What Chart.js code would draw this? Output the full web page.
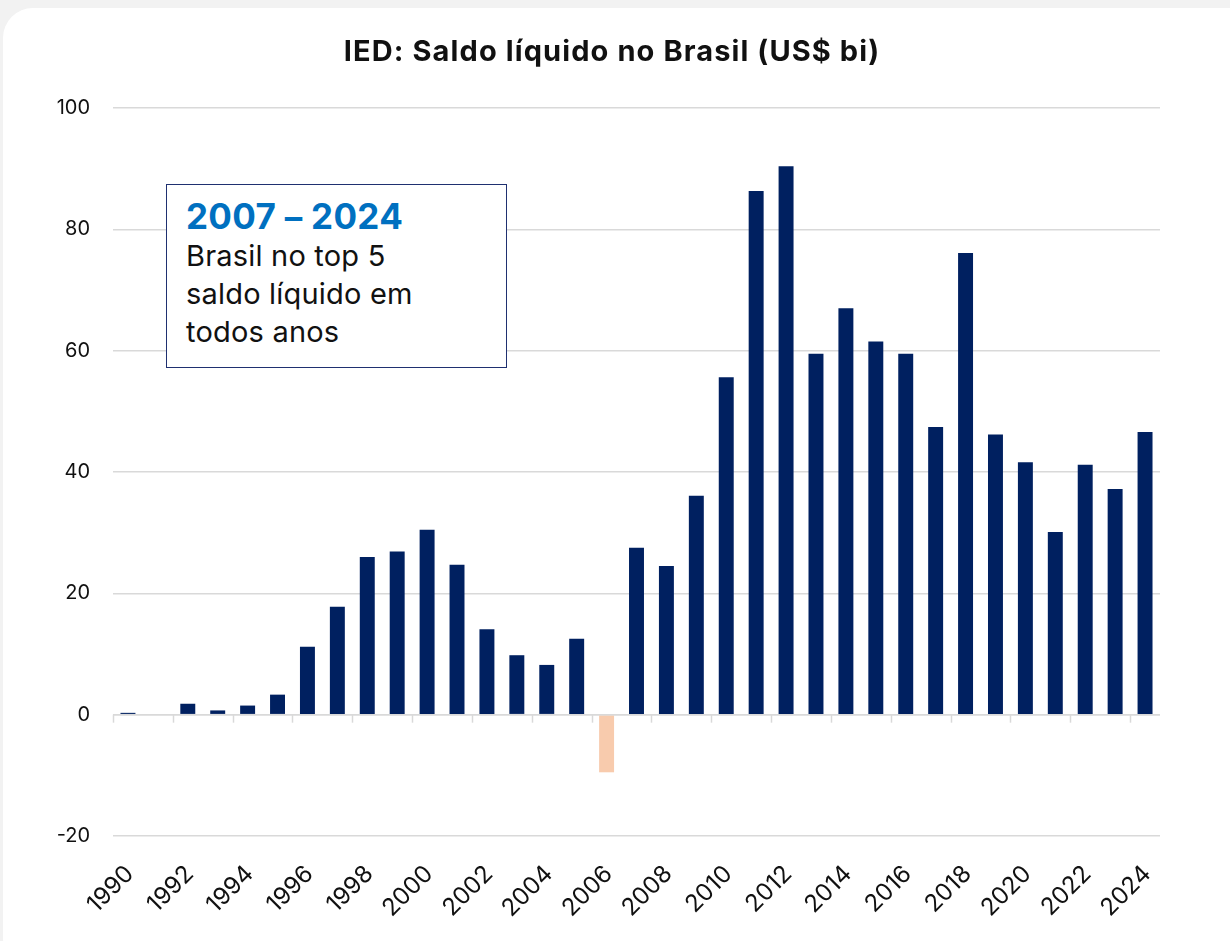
<!DOCTYPE html>
<html lang="pt-BR">
<head>
<meta charset="utf-8">
<title>IED: Saldo líquido no Brasil</title>
<script src="https://cdn.jsdelivr.net/npm/chart.js@4.4.1/dist/chart.umd.min.js"></script>
<style>
  html, body { margin: 0; padding: 0; background: #f2f2f2; }
  body { width: 1230px; height: 941px; position: relative; overflow: hidden; font-family: Inter, "Noto Sans", sans-serif; }
  #card { position: absolute; left: 3px; top: 8px; width: 1260px; height: 960px; background: #fff; border-radius: 30px; }
  #title { position: absolute; left: 0; width: 1224px; top: 33px; text-align: center; font-size: 29px; font-weight: 700; color: #111; letter-spacing: 1.1px; }
  #wrap { position: absolute; left: 0; top: 0; width: 1230px; height: 941px; }
  #note { position: absolute; left: 166px; top: 184px; width: 341px; height: 184px; border: 1.5px solid #1f3070; background: #fff; box-sizing: border-box; padding: 10px 0 0 19px; }
  #note .yrs { font-size: 35px; font-weight: 700; color: #0070c0; line-height: 42px; letter-spacing: 0.3px; }
  #note .txt { font-size: 29px; color: #111; line-height: 38px; letter-spacing: 0.2px; }
</style>
</head>
<body>
<div id="card"></div>
<div id="wrap"><canvas id="chartIED" width="1230" height="941"></canvas></div>
<div id="title">IED: Saldo líquido no Brasil (US$ bi)</div>
<div id="note">
  <div class="yrs">2007 – 2024</div>
  <div class="txt">Brasil no top 5<br>saldo líquido em<br>todos anos</div>
</div>
<script>
// --- dados (US$ bi) ---
const years = ['1990','1991','1992','1993','1994','1995','1996','1997','1998','1999',
               '2000','2001','2002','2003','2004','2005','2006','2007','2008','2009',
               '2010','2011','2012','2013','2014','2015','2016','2017','2018','2019',
               '2020','2021','2022','2023','2024'];
const saldo = [0.3, 0, 1.8, 0.7, 1.5, 3.3, 11.2, 17.8, 26.0, 26.9,
               30.5, 24.7, 14.1, 9.8, 8.2, 12.5, -9.5, 27.5, 24.5, 36.1,
               55.6, 86.3, 90.4, 59.5, 67.0, 61.5, 59.5, 47.4, 76.1, 46.2,
               41.6, 30.1, 41.2, 37.2, 46.6];
const yTicks = [-20, 0, 20, 40, 60, 80, 100];

const NAVY = '#002060', PEACH = '#f8cbad', GRID = '#d9d9d9';

// zero axis line + tick marks every 2 years hanging below zero,
// and the rotated year labels under the plot
const zeroAxis = {
    id: 'zeroAxis',
    afterDatasetsDraw(chart) {
        const { ctx, scales: { x, y }, chartArea } = chart;
        const y0 = y.getPixelForValue(0);
        const half = (x.getPixelForValue(1) - x.getPixelForValue(0)) / 2;
        ctx.save();
        ctx.strokeStyle = GRID; ctx.lineWidth = 1.5;
        ctx.beginPath(); ctx.moveTo(chartArea.left, y0); ctx.lineTo(chartArea.right, y0); ctx.stroke();
        for (let i = 0; i < years.length; i += 2) {
            const px = Math.round(x.getPixelForValue(i) - half) + 0.5;
            ctx.beginPath(); ctx.moveTo(px, y0); ctx.lineTo(px, y0 + 8); ctx.stroke();
        }
        ctx.fillStyle = '#111';
        ctx.font = '24px Inter, "Noto Sans", sans-serif';
        ctx.textAlign = 'right'; ctx.textBaseline = 'middle';
        for (let i = 0; i < years.length; i += 2) {
            ctx.save();
            ctx.translate(x.getPixelForValue(i) + 2, chartArea.bottom + 34);
            ctx.rotate(-Math.PI / 4);
            ctx.fillText(years[i], 0, 0);
            ctx.restore();
        }
        ctx.restore();
    }
};

new Chart(document.getElementById('chartIED'), {
    type: 'bar',
    data: {
        labels: years,
        datasets: [{
            label: 'Saldo líquido',
            data: saldo,
            backgroundColor: saldo.map(v => v < 0 ? PEACH : NAVY),
            borderWidth: 0,
            barPercentage: 0.5,
            categoryPercentage: 1
        }]
    },
    options: {
        responsive: false,
        animation: false,
        devicePixelRatio: 1,
        layout: { padding: { top: 108, right: 70, bottom: 0, left: 0 } },
        plugins: { legend: { display: false }, tooltip: { enabled: false } },
        scales: {
            x: {
                grid: { display: false },
                border: { display: false },
                ticks: { display: false },
                afterFit: s => { s.height = 105; }
            },
            y: {
                min: -20, max: 100,
                afterFit: s => { s.width = 113; },
                afterBuildTicks: s => { s.ticks = yTicks.map(v => ({ value: v })); },
                grid: { color: GRID, lineWidth: 1.5, drawTicks: false },
                border: { display: false },
                ticks: { padding: 23, color: '#111', font: { family: 'Inter', size: 20 } }
            }
        }
    },
    plugins: [zeroAxis]
});
</script>
</body>
</html>
